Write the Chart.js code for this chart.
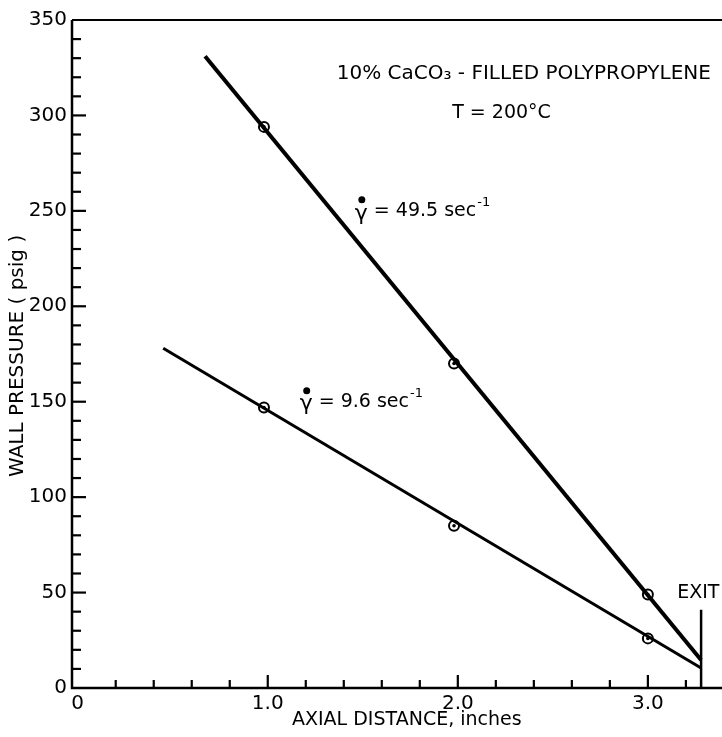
<!DOCTYPE html>
<html>
<head>
<meta charset="utf-8">
<script src="https://cdn.jsdelivr.net/npm/chart.js@4.4.0/dist/chart.umd.min.js"></script>
<style>
  html, body { margin: 0; padding: 0; background: #fff; overflow: hidden; }
</style>
</head>
<body>
<canvas id="myChart" width="722" height="737"></canvas>
<script>
// measured points (axial distance in inches, wall pressure in psig)
var highX = [0.98, 1.98, 3.0];
var highY = [294, 170, 49];
var lowX = [0.98, 1.98, 3.0];
var lowY = [147, 85, 26];

// drawn fit lines, start and end at the exit
var highLineX = [0.67, 3.28];
var highLineY = [331, 14.7];
var lowLineX = [0.45, 3.28];
var lowLineY = [178, 10.5];

var exitX = [3.28, 3.28];
var exitY = [0, 41];

var xTickValues = [0, 1, 2, 3];
var yTickStep = 50;

var FONT = '"DejaVu Sans", sans-serif';

function pts(xs, ys) {
  return xs.map(function (x, i) { return { x: x, y: ys[i] }; });
}

// axes with inward ticks, frame, annotations
var drawExtras = {
  id: 'drawExtras',
  afterDatasetsDraw: function (chart) {
    var ctx = chart.ctx;
    var xs = chart.scales.x, ys = chart.scales.y;
    var a = chart.chartArea;
    ctx.save();
    ctx.strokeStyle = '#000';
    ctx.fillStyle = '#000';
    ctx.lineCap = 'butt';

    // axis lines
    ctx.lineWidth = 2.5;
    ctx.beginPath();
    ctx.moveTo(a.left, a.top);
    ctx.lineTo(a.left, a.bottom);
    ctx.lineTo(chart.width, a.bottom);
    ctx.stroke();
    ctx.lineWidth = 2;
    ctx.beginPath();
    ctx.moveTo(a.left, a.top);
    ctx.lineTo(chart.width, a.top);
    ctx.stroke();

    // y ticks every 10
    ctx.lineWidth = 2.2;
    for (var v = 10; v < 350; v += 10) {
      var py = ys.getPixelForValue(v);
      var len = (v % 50 === 0) ? 14 : 9;
      ctx.beginPath();
      ctx.moveTo(a.left, py);
      ctx.lineTo(a.left + len, py);
      ctx.stroke();
    }
    // x ticks every 0.2
    for (var i = 1; i <= 16; i++) {
      var xv = i * 0.2;
      var px = xs.getPixelForValue(xv);
      var l = (i % 5 === 0) ? 13 : 8;
      ctx.beginPath();
      ctx.moveTo(px, a.bottom);
      ctx.lineTo(px, a.bottom - l);
      ctx.stroke();
    }

    // center dots of the data markers
    [2, 3].forEach(function (di) {
      chart.getDatasetMeta(di).data.forEach(function (p) {
        ctx.beginPath();
        ctx.arc(p.x, p.y, 1.8, 0, Math.PI * 2);
        ctx.fill();
      });
    });

    // annotations
    ctx.textBaseline = 'middle';
    ctx.textAlign = 'left';
    ctx.font = '20px ' + FONT;
    ctx.fillText('10% CaCO\u2083 - FILLED POLYPROPYLENE', xs.getPixelForValue(1.363), ys.getPixelForValue(322));
    ctx.textAlign = 'center';
    ctx.font = '19px ' + FONT;
    ctx.fillText('T = 200\u00B0C', xs.getPixelForValue(2.23), ys.getPixelForValue(301));

    drawRate(ctx, xs.getPixelForValue(1.458), ys.getPixelForValue(250), '49.5');
    drawRate(ctx, xs.getPixelForValue(1.168), ys.getPixelForValue(150), '9.6');

    ctx.font = '19px ' + FONT;
    ctx.textAlign = 'center';
    ctx.fillText('EXIT', xs.getPixelForValue(3.265), ys.getPixelForValue(50));

    // axis titles
    ctx.textAlign = 'left';
    ctx.font = '19px ' + FONT;
    ctx.fillText('AXIAL DISTANCE, inches', 292, 720);
    ctx.save();
    ctx.translate(18, 477);
    ctx.rotate(-Math.PI / 2);
    ctx.font = '20px ' + FONT;
    ctx.fillText('WALL PRESSURE ( psig )', 0, 0);
    ctx.restore();

    ctx.restore();
  }
};

function drawRate(ctx, x, y, val) {
  ctx.textAlign = 'left';
  ctx.textBaseline = 'middle';
  ctx.font = '22px ' + FONT;
  ctx.fillText('\u03B3', x, y + 3);
  var gw = ctx.measureText('\u03B3').width;
  ctx.beginPath();
  ctx.arc(x + gw / 2 + 0.5, y - 11, 3.5, 0, Math.PI * 2);
  ctx.fill();
  ctx.font = '19px ' + FONT;
  var t = ' = ' + val + ' sec';
  ctx.fillText(t, x + gw, y);
  var tw = ctx.measureText(t).width;
  ctx.font = '13px ' + FONT;
  ctx.fillText('-1', x + gw + tw + 1, y - 8);
}

var ctx = document.getElementById('myChart');
var myChart = new Chart(ctx, {
  type: 'scatter',
  data: {
    datasets: [
      { data: pts(highLineX, highLineY), showLine: true, borderColor: '#000', borderWidth: 4, pointRadius: 0 },
      { data: pts(lowLineX, lowLineY), showLine: true, borderColor: '#000', borderWidth: 3, pointRadius: 0 },
      { data: pts(highX, highY), showLine: false, pointRadius: 5, pointBorderWidth: 2, pointBorderColor: '#000', pointBackgroundColor: '#fff' },
      { data: pts(lowX, lowY), showLine: false, pointRadius: 5, pointBorderWidth: 2, pointBorderColor: '#000', pointBackgroundColor: '#fff' },
      { data: pts(exitX, exitY), showLine: true, borderColor: '#000', borderWidth: 2.5, pointRadius: 0 }
    ]
  },
  options: {
    responsive: false,
    animation: false,
    layout: { autoPadding: false, padding: { top: 20, right: 0, left: 0, bottom: 0 } },
    plugins: { legend: { display: false }, tooltip: { enabled: false } },
    scales: {
      x: {
        type: 'linear',
        min: -0.03,
        max: 3.39,
        grid: { display: false, drawTicks: false },
        border: { display: false },
        afterBuildTicks: function (scale) {
          scale.ticks = xTickValues.map(function (v) { return { value: v }; });
        },
        ticks: {
          color: '#000',
          font: { family: FONT, size: 20 },
          padding: 4,
          maxRotation: 0,
          callback: function (v) { return v === 0 ? '0' : v.toFixed(1); }
        },
        afterFit: function (scale) {
          scale.height = 49;
          scale.paddingLeft = 0;
          scale.paddingRight = 0;
        }
      },
      y: {
        min: 0,
        max: 350,
        grid: { display: false, drawTicks: false },
        border: { display: false },
        ticks: {
          stepSize: yTickStep,
          color: '#000',
          font: { family: FONT, size: 20 },
          padding: 5
        },
        afterFit: function (scale) { scale.width = 72; }
      }
    }
  },
  plugins: [drawExtras]
});
</script>
</body>
</html>
